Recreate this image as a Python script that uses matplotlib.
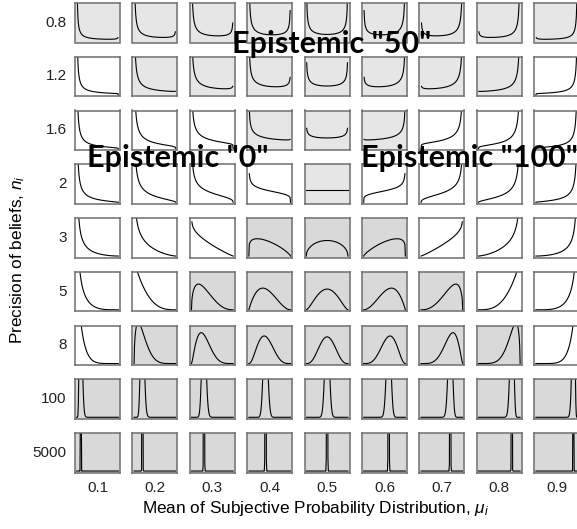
import math
import numpy as np
import matplotlib
matplotlib.use("Agg")
import matplotlib.pyplot as plt

plt.rcParams['font.family'] = ['Liberation Sans', 'DejaVu Sans']
plt.rcParams['mathtext.fontset'] = 'custom'
plt.rcParams['mathtext.rm'] = 'Liberation Sans'
plt.rcParams['mathtext.it'] = 'Liberation Sans:italic'

# mean of subjective probability distribution (columns)
mu_vals = [0.1, 0.2, 0.3, 0.4, 0.5, 0.6, 0.7, 0.8, 0.9]
mu_labels = ['0.1', '0.2', '0.3', '0.4', '0.5', '0.6', '0.7', '0.8', '0.9']
# precision of beliefs (rows)
n_vals = [0.8, 1.2, 1.6, 2, 3, 5, 8, 100, 5000]
n_labels = ['0.8', '1.2', '1.6', '2', '3', '5', '8', '100', '5000']

# 0 = white, 1 = light grey, 2 = grey
shade = [
    [1, 1, 1, 1, 1, 1, 1, 1, 1],
    [0, 1, 1, 1, 1, 1, 1, 1, 0],
    [0, 0, 0, 1, 1, 1, 0, 0, 0],
    [0, 0, 0, 0, 1, 0, 0, 0, 0],
    [0, 0, 0, 2, 2, 2, 0, 0, 0],
    [0, 0, 2, 2, 2, 2, 2, 0, 0],
    [0, 2, 2, 2, 2, 2, 2, 2, 0],
    [2, 2, 2, 2, 2, 2, 2, 2, 2],
    [2, 2, 2, 2, 2, 2, 2, 2, 2],
]
shade_cols = {0: 'white', 1: '#e6e6e6', 2: '#d9d9d9'}

overlay_texts = ['Epistemic "50"', 'Epistemic "0"', 'Epistemic "100"']


def beta_pdf(x, a, b):
    lb = math.lgamma(a) + math.lgamma(b) - math.lgamma(a + b)
    with np.errstate(divide='ignore', invalid='ignore'):
        t1 = np.zeros_like(x) if a == 1 else (a - 1) * np.log(x)
        t2 = np.zeros_like(x) if b == 1 else (b - 1) * np.log(1 - x)
        y = np.exp(t1 + t2 - lb)
    y[~np.isfinite(y)] = np.nan
    return y


W, H = 577, 529
fig = plt.figure(figsize=(W / 100, H / 100), dpi=100)

x = np.linspace(0, 1, 101)
pw, ph = 45, 39.5
for i, n in enumerate(n_vals):
    top = 3 + i * 53.75
    for j, mu in enumerate(mu_vals):
        left = 75 + j * 57.4
        ax = fig.add_axes([left / W, 1 - (top + ph) / H, pw / W, ph / H])
        ax.set_facecolor(shade_cols[shade[i][j]])
        ax.plot(x, beta_pdf(x, mu * n, (1 - mu) * n), color='black', lw=0.8)
        ax.set_xlim(-0.04, 1.04)
        ax.set_ylim(-0.12, 3.12)
        ax.set_xticks([])
        ax.set_yticks([])
        for s in ax.spines.values():
            s.set_color('#6e6e6e')
            s.set_linewidth(1.1)
        if j == 0:
            ax.set_ylabel(n_labels[i], rotation=0, ha='right', va='center',
                          fontsize=11, labelpad=6, color='#222222')
        if i == len(n_vals) - 1:
            ax.set_xlabel(mu_labels[j], fontsize=11, labelpad=6, color='#222222')

fig.text(316 / W, 1 - 508 / H, 'Mean of Subjective Probability Distribution, $\\mu_i$',
         ha='center', va='center', fontsize=12.4)
fig.text(18 / W, 1 - 260 / H, 'Precision of beliefs, $n_i$',
         ha='center', va='center', rotation=90, fontsize=12.4)

fig.text(332 / W, 1 - 44 / H, overlay_texts[0], ha='center', va='center',
         fontsize=22, fontweight='bold', family='Lato', zorder=10)
fig.text(178 / W, 1 - 158 / H, overlay_texts[1], ha='center', va='center',
         fontsize=22, fontweight='bold', family='Lato', zorder=10)
fig.text(469 / W, 1 - 158 / H, overlay_texts[2], ha='center', va='center',
         fontsize=22, fontweight='bold', family='Lato', zorder=10)

fig.savefig('out.png', dpi=100)
